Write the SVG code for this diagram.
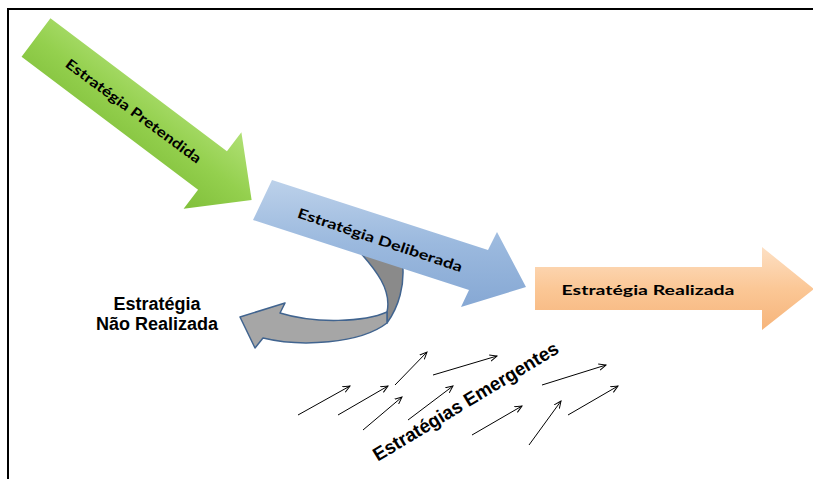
<svg xmlns="http://www.w3.org/2000/svg" width="813" height="479" viewBox="0 0 813 479">
<style>
.lbl{font-family:Lato,"Liberation Sans",sans-serif;font-weight:bold;font-size:14px;fill:#000;text-anchor:middle}
.ar{font-family:"Liberation Sans",Arial,sans-serif;font-weight:bold;fill:#000;text-anchor:middle}
.em{stroke:#000;stroke-width:1;fill:none;marker-end:url(#ah)}
.frame{stroke:#000;stroke-width:2;fill:none}
</style>
<defs>
<marker id="ah" viewBox="0 0 10 10" refX="9" refY="5" markerWidth="8" markerHeight="8" orient="auto" markerUnits="userSpaceOnUse">
<path d="M0,1 L9,5 L0,9" fill="none" stroke="#000" stroke-width="1.2"/>
</marker>
<linearGradient id="gG" x1="0" y1="0" x2="0" y2="1">
<stop offset="0" stop-color="#b0e075"/><stop offset="0.5" stop-color="#94d04e"/><stop offset="1" stop-color="#80bf3a"/>
</linearGradient>
<linearGradient id="gB" x1="0" y1="0" x2="0" y2="1">
<stop offset="0" stop-color="#bcd1ea"/><stop offset="0.5" stop-color="#9bb9de"/><stop offset="1" stop-color="#86a8d4"/>
</linearGradient>
<linearGradient id="gO" x1="0" y1="0" x2="0" y2="1">
<stop offset="0" stop-color="#fde0c4"/><stop offset="0.5" stop-color="#fbc796"/><stop offset="1" stop-color="#f6b47a"/>
</linearGradient>
</defs>

<path class="frame" d="M8,480 L8,9 L813,9"/>

<g id="pretendida">
<g transform="translate(36,37.5) rotate(37)">
<polygon points="0,-24 221,-24 221,-48 270,0 221,48 221,24 0,24" fill="url(#gG)"/>
</g>
<text class="lbl" transform="translate(133.5,111) rotate(36.5)" y="5" textLength="165" lengthAdjust="spacingAndGlyphs">Estratégia Pretendida</text>
</g>

<g id="nao-realizada-arrow">
<path d="M358,250 C376,270 392,290 387,312 L387,323 C398,308 406,285 402,258 Z" fill="#8a8a8a" stroke="#41648f" stroke-width="1.5" stroke-linejoin="round"/>
<path d="M387,312 C365,322 315,324 280,313 L285,303 L240,317 L255,348 L263,338 C300,347 360,344 387,323 Z" fill="#a6a6a6" stroke="#41648f" stroke-width="1.5" stroke-linejoin="round"/>
</g>

<g id="deliberada">
<polygon points="272,180 488,250 497,232 526,287 461,307 469,290 253,220" fill="url(#gB)"/>
<text class="lbl" transform="translate(380,240) rotate(18.5)" y="5" textLength="173" lengthAdjust="spacingAndGlyphs">Estratégia Deliberada</text>
</g>

<g id="realizada">
<polygon points="535,267 762,267 762,247 814,289 762,330 762,310 535,310" fill="url(#gO)"/>
<text class="lbl" x="648" y="295" textLength="173" lengthAdjust="spacingAndGlyphs">Estratégia Realizada</text>
</g>

<g id="nao-realizada-label">
<text class="ar" font-size="18" x="157" y="310">Estratégia</text>
<text class="ar" font-size="18" x="157" y="330">Não Realizada</text>
</g>

<g id="connectors">
<line class="em" x1="298" y1="415" x2="350" y2="386"/>
<line class="em" x1="338" y1="415" x2="388" y2="386"/>
<line class="em" x1="395" y1="385" x2="427" y2="352"/>
<line class="em" x1="433" y1="375" x2="497" y2="356"/>
<line class="em" x1="363" y1="430" x2="402" y2="397"/>
<line class="em" x1="408" y1="420" x2="453" y2="386"/>
<line class="em" x1="472" y1="435" x2="522" y2="406"/>
<line class="em" x1="529" y1="445" x2="561" y2="401"/>
<line class="em" x1="542" y1="385" x2="606" y2="365"/>
<line class="em" x1="568" y1="415" x2="618" y2="386"/>
</g>

<g id="emergentes">
<text class="ar" font-size="19" transform="translate(469,407) rotate(-31)" textLength="213" lengthAdjust="spacingAndGlyphs">Estratégias Emergentes</text>
</g>
</svg>
